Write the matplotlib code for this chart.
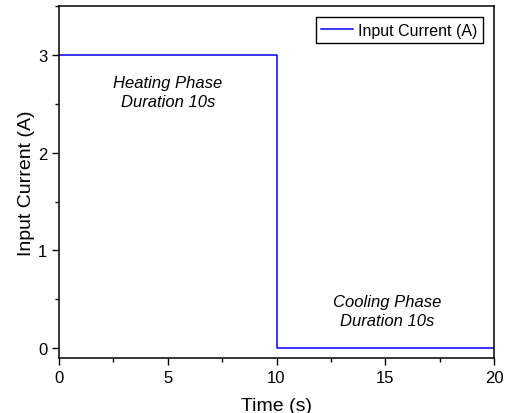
import matplotlib
matplotlib.use("Agg")
import matplotlib.pyplot as plt
from matplotlib.ticker import MultipleLocator

plt.rcParams['font.family'] = ['Liberation Sans', 'DejaVu Sans']

# step profile of the input current
time_s = [0, 10, 10, 20]
current_a = [3, 3, 0, 0]

x_ticks = [0, 5, 10, 15, 20]
y_ticks = [0, 1, 2, 3]

phase_labels = ["Heating Phase\nDuration 10s", "Cooling Phase\nDuration 10s"]
phase_pos = [(5, 2.62), (15.1, 0.38)]

fig = plt.figure(figsize=(5.09, 4.14), dpi=100)
ax = fig.add_axes([59 / 509, 1 - 359 / 414, (494 - 59) / 509, (359 - 7) / 414])

ax.plot(time_s, current_a, color="#0000ff", lw=1.1, label="Input Current (A)")

for txt, (x, y) in zip(phase_labels, phase_pos):
    ax.text(x, y, txt, ha="center", va="center", style="italic", fontsize=12,
            linespacing=1.3)

ax.set_xlim(0, 20)
ax.set_ylim(-0.1, 3.5)
ax.set_xticks(x_ticks)
ax.set_yticks(y_ticks)
ax.xaxis.set_minor_locator(MultipleLocator(2.5))
ax.yaxis.set_minor_locator(MultipleLocator(0.5))
ax.tick_params(which="major", direction="out", length=5, width=1, labelsize=12)
ax.tick_params(which="minor", direction="out", length=3, width=1)
for s in ax.spines.values():
    s.set_linewidth(1.1)

ax.set_xlabel("Time (s)", fontsize=14, labelpad=9)
ax.set_ylabel("Input Current (A)", fontsize=14, labelpad=2)

leg = ax.legend(loc="upper right", fontsize=11.5, fancybox=False, framealpha=1,
                edgecolor="black", borderpad=0.35, handlelength=2.0,
                handletextpad=0.3, borderaxespad=0.7)
leg.get_frame().set_linewidth(1)

fig.savefig("out.png", dpi=100)
